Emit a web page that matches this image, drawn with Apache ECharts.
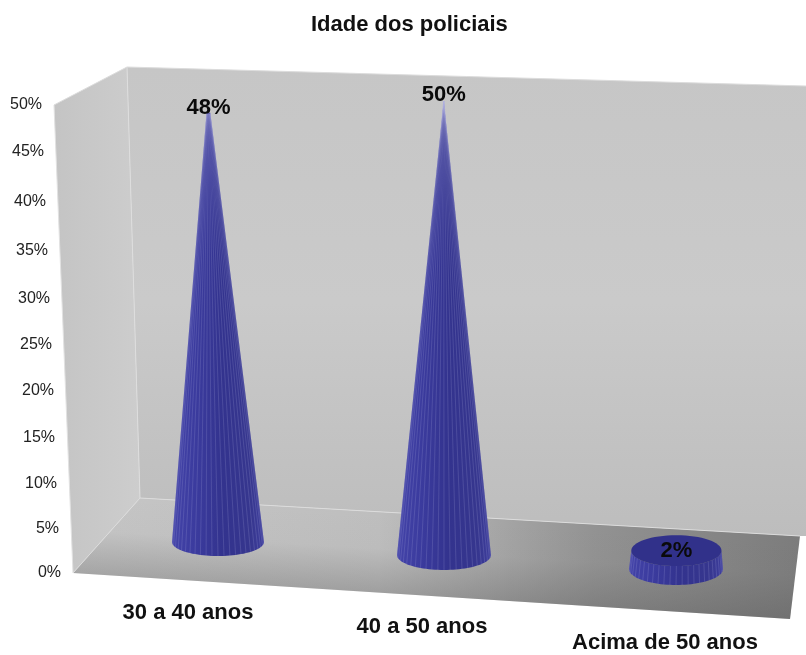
<!DOCTYPE html>
<html>
<head>
<meta charset="utf-8">
<style>html,body{margin:0;padding:0;background:#fff}#chart{width:806px;height:655px}</style>
<script src="https://cdn.jsdelivr.net/npm/echarts@6/dist/echarts.min.js"></script>
</head>
<body>
<div id="chart"></div>
<script>
const chartTitle = 'Idade dos policiais';
const categories = ['30 a 40 anos', '40 a 50 anos', 'Acima de 50 anos'];
const shares = [48, 50, 2];
const axisMax = 50;
const axisStep = 5;

// Oblique view: how far each category sits from the axis baseline and how it scales with depth
const groundLift = [31, 18, 4];
const groundNudge = [0, -3, 0];
const depthScale = [0.955, 0.97, 0.98];
const baseRadiusX = [46, 47, 47];
const baseRadiusY = [14, 15, 16];
const labelLift = [5, 6, 0];
const leanFactor = 0.043;
const vanishX = 450;

// Tick label shifts that follow the slanted left edge of the box
const tickShiftX = { 0: 1, 5: 3, 10: 5, 15: 7, 20: 8, 25: 10, 30: 12, 35: 14, 40: 16, 45: 18, 50: 20 };
const tickShiftY = { 0: 0, 5: 2, 10: 4, 15: 5, 20: 5, 25: 6, 30: 6, 35: 5, 40: 3, 45: 0, 50: 0 };

// Category label shifts along the sloping front edge of the floor
const catShiftX = [30, 25, 11];
const catShiftY = [0, 14, 30];

const tickRich = {};
Object.keys(tickShiftX).forEach(function (k) {
  tickRich['t' + k] = {
    fontFamily: 'Liberation Sans', fontSize: 16, color: '#222',
    padding: [tickShiftY[k] * 2, tickShiftX[k], 0, 0]
  };
});
const catRich = {};
categories.forEach(function (c, i) {
  catRich['c' + i] = {
    fontFamily: 'Liberation Sans', fontSize: 22, fontWeight: 'bold', color: '#111',
    padding: [catShiftY[i], catShiftX[i] * 2, 0, 0]
  };
});

function poly(points, fill, extra) {
  return Object.assign({ type: 'polygon', silent: true, shape: { points: points }, style: { fill: fill } }, extra || {});
}
function seam(a, b, color, w) {
  return { type: 'line', silent: true, z: 1, shape: { x1: a[0], y1: a[1], x2: b[0], y2: b[1] }, style: { stroke: color, lineWidth: w } };
}

// Box corners
const sideTop = [54, 105], backTopLeft = [127, 67], backTopRight = [806, 86];
const backBottomLeft = [140, 498], backBottomRight = [800, 536];
const frontLeft = [73, 573], frontRight = [790, 619];

const boxParts = [
  poly([sideTop, backTopLeft, backBottomLeft, frontLeft], {
    type: 'linear', x: 0, y: 0, x2: 1, y2: 0,
    colorStops: [{ offset: 0, color: '#c4c4c4' }, { offset: 1, color: '#cdcdcd' }]
  }),
  poly([backTopLeft, backTopRight, [806, 536], backBottomRight, backBottomLeft], {
    type: 'linear', x: 0, y: 0, x2: 0, y2: 1,
    colorStops: [{ offset: 0, color: '#c6c6c6' }, { offset: 0.5, color: '#cacaca' }, { offset: 1, color: '#bdbdbd' }]
  }),
  poly([backBottomLeft, backBottomRight, frontRight, frontLeft], {
    type: 'linear', x: 0, y: 0, x2: 1, y2: 0,
    colorStops: [{ offset: 0, color: '#c6c6c6' }, { offset: 0.42, color: '#bebebe' }, { offset: 0.72, color: '#929292' }, { offset: 1, color: '#7c7c7c' }]
  }),
  poly([backBottomLeft, backBottomRight, frontRight, frontLeft], {
    type: 'linear', global: true, x: 140, y: 498, x2: 135, y2: 577,
    colorStops: [{ offset: 0, color: 'rgba(80,80,80,0)' }, { offset: 0.45, color: 'rgba(80,80,80,0.02)' }, { offset: 1, color: 'rgba(80,80,80,0.28)' }]
  }),
  seam(backTopLeft, backBottomLeft, '#dedede', 1),
  seam(backBottomLeft, frontLeft, '#dcdcdc', 1),
  seam(backBottomLeft, backBottomRight, '#dcdcdc', 1),
  seam(sideTop, frontLeft, '#e2e2e2', 1),
  seam(sideTop, backTopLeft, '#dcdcdc', 1),
  seam(backTopLeft, backTopRight, '#dcdcdc', 1)
];

function renderCone(params, api) {
  const i = api.value(0);
  const v = api.value(1);
  const foot = api.coord([i, 0]);
  const head = api.coord([i, v]);
  const cx = foot[0] + groundNudge[i];
  const by = foot[1] - groundLift[i];
  const h = (foot[1] - head[1]) * depthScale[i];
  const frac = v / axisMax;
  const rx = baseRadiusX[i], ry = baseRadiusY[i];
  const tx = cx + (cx - vanishX) * leanFactor * frac;
  const ty = by - h;
  const trx = rx * (1 - frac), tr = ry * (1 - frac);

  const outline = [];
  const arcSteps = 48;
  for (let k = 0; k <= arcSteps; k++) {
    const t = Math.PI * k / arcSteps;
    outline.push([cx + rx * Math.cos(t), by + ry * Math.sin(t)]);
  }
  for (let k = arcSteps; k >= 0; k--) {
    const t = Math.PI * k / arcSteps;
    outline.push([tx + trx * Math.cos(t), ty + tr * Math.sin(t)]);
  }

  const children = [{
    type: 'polygon',
    shape: { points: outline },
    style: {
      fill: {
        type: 'linear', x: 0, y: 0, x2: 1, y2: 0,
        colorStops: [
          { offset: 0, color: '#4343a8' }, { offset: 0.25, color: '#3b3b9e' },
          { offset: 0.55, color: '#33338e' }, { offset: 0.85, color: '#36368e' }, { offset: 1, color: '#3d3d9c' }
        ]
      }
    }
  }];

  // Facet edges running from the base up the side of the cone
  const facets = 24;
  for (let k = 1; k < facets; k++) {
    const t = Math.PI * k / facets;
    children.push({
      type: 'line',
      shape: {
        x1: cx + rx * Math.cos(t), y1: by + ry * Math.sin(t),
        x2: tx + trx * Math.cos(t), y2: ty + tr * Math.sin(t)
      },
      style: { stroke: 'rgba(178,178,225,0.28)', lineWidth: 0.7 }
    });
  }

  if (tr > 0.5) {
    children.push({
      type: 'ellipse',
      shape: { cx: tx, cy: ty, rx: trx, ry: tr },
      style: { fill: '#31318a' }
    });
  }
  children.push({
    type: 'text',
    z2: 10,
    style: {
      text: v + '%', x: tx, y: ty - labelLift[i],
      align: 'center', verticalAlign: 'middle',
      fontFamily: 'Liberation Sans', fontSize: 22, fontWeight: 'bold', fill: '#0a0a0a'
    }
  });
  return { type: 'group', children: children };
}

const chart = echarts.init(document.getElementById('chart'), null, { renderer: 'canvas' });
chart.setOption({
  animation: false,
  backgroundColor: '#fff',
  title: {
    text: chartTitle, left: 306, top: 9,
    textStyle: { fontFamily: 'Liberation Sans', fontSize: 22, fontWeight: 'bold', color: '#111' }
  },
  graphic: { elements: boxParts },
  grid: { left: 103.5, right: 15.5, top: 105, bottom: 82, containLabel: false, outerBoundsMode: 'none' },
  xAxis: {
    type: 'category',
    data: categories,
    axisLine: { show: false },
    axisTick: { show: false },
    splitLine: { show: false },
    axisLabel: {
      interval: 0, margin: 29,
      formatter: function (value) { return '{c' + categories.indexOf(value) + '|' + value + '}'; },
      rich: catRich
    }
  },
  yAxis: {
    type: 'value', min: 0, max: axisMax, interval: axisStep,
    offset: 41.5,
    axisLine: { show: false },
    axisTick: { show: false },
    splitLine: { show: false },
    axisLabel: {
      margin: 0,
      formatter: function (value) { return '{t' + value + '|' + value + '%}'; },
      rich: tickRich
    }
  },
  series: [{
    type: 'custom',
    name: chartTitle,
    coordinateSystem: 'cartesian2d',
    encode: { x: 0, y: 1 },
    clip: false,
    data: shares.map(function (v, i) { return [i, v]; }),
    renderItem: renderCone
  }]
});
</script>
</body>
</html>
